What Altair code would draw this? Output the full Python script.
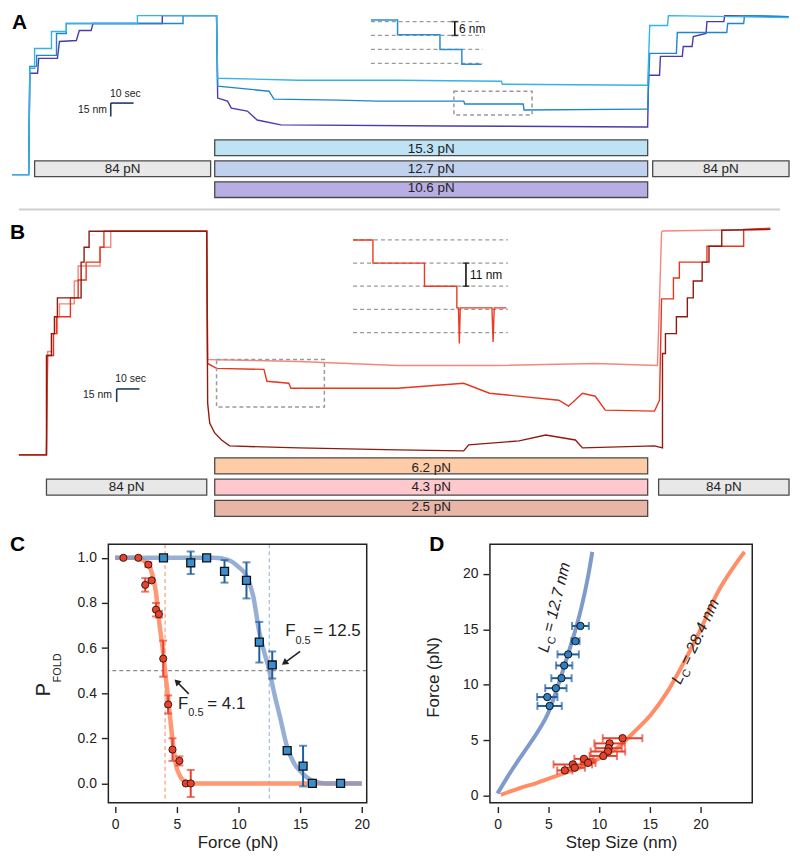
import altair as alt
import pandas as pd

FONT = "Liberation Sans"
INK = "#222222"

# ============================ DATA ============================
# ---------- Panel A: extension (nm) vs time (s) ----------
A_cyan_t = [0.9, 8.2, 8.7, 10.8, 10.8, 18.2, 18.2, 24.7, 24.7, 55.9, 55.9, 90.6, 91.1,
            126.6, 170.0, 215.5, 216.0, 278.4, 279.7, 280.6, 288.4, 288.8, 341.5]
A_cyan_e = [0, 0, 118.9, 118.9, 141.1, 141.1, 160.0, 160.0, 168.9, 168.9, 177.8, 177.8, 107.8,
            105.6, 105.6, 104.4, 101.1, 100.0, 100.0, 166.7, 166.7, 177.8, 175.6]
A_blue_t = [0.9, 8.2, 8.7, 11.7, 11.7, 20.4, 20.4, 24.7, 24.7, 75.9, 75.9, 90.6, 91.1, 113.6,
            115.8, 144.0, 161.3, 199.0, 199.5, 225.1, 225.5, 278.4, 279.7, 280.6, 292.3, 292.7,
            314.4, 314.8, 321.8, 322.2, 341.5]
A_blue_e = [0, 0, 121.1, 121.1, 133.3, 133.3, 157.8, 157.8, 168.9, 168.9, 177.8, 177.8, 98.9, 93.3,
            84.4, 83.3, 82.2, 82.2, 78.9, 78.9, 72.2, 73.3, 73.3, 135.6, 135.6, 158.9,
            158.9, 168.9, 168.9, 177.8, 176.7]
A_purple_t = [0.9, 8.2, 8.7, 12.1, 12.6, 20.8, 21.7, 29.1, 30.4, 35.6, 36.4, 66.8, 66.8, 90.6, 91.1,
              95.4, 97.1, 104.1, 108.4, 118.8, 191.7, 278.4, 279.7, 280.1, 284.9, 285.3, 294.9,
              295.3, 299.2, 299.7, 305.3, 305.7, 313.1, 313.5, 341.5]
A_purple_e = [0, 0, 113.3, 113.3, 130.0, 130.0, 148.9, 150.0, 161.1, 161.1, 168.9, 168.9, 177.8, 177.8,
              85.6, 82.2, 74.4, 71.1, 61.1, 55.6, 54.4, 53.3, 53.3, 111.1, 111.1, 132.2, 132.2,
              143.3, 143.3, 154.4, 157.8, 171.1, 171.1, 177.8, 176.7]
A_inset_t = [158.3, 170.0, 170.0, 188.6, 188.6, 198.2, 198.2, 206.9]
A_inset_e = [173.0, 173.0, 156.5, 156.5, 140.0, 140.0, 123.5, 123.5]
A_inset_levels = [171.1, 155.6, 140.0, 124.4]
A_inset_span = [158.3, 207.3]
A_box = [194.7, 229.0, 66.7, 93.3]          # t0, t1, e0, e1 (zoomed region)
A_step_bar = [195.1, 155.6, 171.1]          # t, e0, e1  -> "6 nm"
A_scale = [44.2, 80.0, 10.0, 15.0]          # t0, e0, 10 sec, 15 nm
A_bar_t0 = [10.8, 89.8, 89.8, 89.8, 281.9]
A_bar_t1 = [88.0, 279.7, 279.7, 279.7, 341.7]
A_bar_lane = ["mid", "top", "mid", "bot", "mid"]
A_bar_label = ["84 pN", "15.3 pN", "12.7 pN", "10.6 pN", "84 pN"]

# ---------- Panel B ----------
B_dark_t = [3.9, 16.0, 16.0, 18.2, 18.2, 19.5, 19.5, 20.8, 20.8, 31.2, 31.2, 32.5, 32.5, 34.7, 34.7,
            86.3, 86.7, 87.6, 89.8, 92.8, 96.3, 126.6, 170.0, 199.0, 201.2, 223.3, 235.0, 248.0,
            251.1, 282.7, 286.2, 286.2, 287.5, 287.5, 292.3, 292.3, 297.1, 297.1, 299.7, 299.7,
            303.6, 303.6, 306.6, 306.6, 312.2, 312.2, 333.5]
B_dark_e = [0, 0, 114.9, 114.9, 140.2, 140.2, 159.8, 159.8, 181.6, 181.6, 223.0, 223.0, 240.2, 240.2,
            258.6, 258.6, 59.8, 36.8, 25.3, 17.2, 10.3, 8.0, 5.7, 4.6, 11.5, 16.1, 23.0, 17.2, 8.0,
            10.3, 8.0, 117.2, 117.2, 140.2, 140.2, 159.8, 159.8, 181.6, 181.6, 201.1, 201.1, 223.0,
            223.0, 241.4, 241.4, 259.8, 260.9]
B_red_t = [3.9, 16.0, 16.5, 19.1, 19.1, 20.4, 20.4, 26.5, 26.5, 29.9, 29.9, 33.4, 33.4, 39.5, 39.5,
           41.2, 41.2, 86.3, 86.7, 90.6, 111.4, 112.7, 122.3, 123.2, 170.0, 199.0, 210.3, 240.7,
           245.0, 251.1, 256.7, 261.1, 282.7, 284.9, 285.8, 291.0, 291.0, 293.6, 293.6, 305.7,
           305.7, 321.8, 321.8, 333.5]
B_red_e = [0, 0, 114.9, 114.9, 140.2, 140.2, 159.8, 159.8, 181.6, 181.6, 202.3, 202.3, 223.0, 223.0,
           240.2, 240.2, 258.6, 258.6, 105.7, 100.0, 98.9, 85.1, 82.8, 77.0, 77.0, 82.8, 71.3, 63.2,
           56.3, 71.3, 67.8, 51.7, 50.6, 63.2, 180.5, 180.5, 204.6, 204.6, 223.0, 223.0, 241.4,
           241.4, 260.9, 262.1]
B_light_t = [3.9, 16.0, 16.5, 18.2, 18.2, 20.8, 20.8, 21.7, 21.7, 28.2, 28.2, 29.9, 29.9, 39.5, 39.5,
             44.2, 44.2, 86.3, 86.7, 126.6, 170.0, 213.4, 256.7, 284.0, 285.8, 286.2, 333.5]
B_light_e = [0, 0, 119.5, 119.5, 140.2, 140.2, 159.8, 159.8, 174.7, 174.7, 201.1, 201.1, 218.4, 218.4,
             240.2, 240.2, 258.6, 258.6, 110.3, 108.0, 103.4, 103.4, 105.7, 103.4, 257.5, 259.0, 260.9]
B_inset_t = [150.5, 159.2, 159.2, 181.8, 181.8, 196.0, 196.0, 196.7, 197.1, 197.5, 211.4, 211.9,
             212.4, 217.7]
B_inset_e = [248.6, 248.6, 221.8, 221.8, 195.1, 195.1, 170.0, 170.0, 128.7, 170.0, 170.0, 130.7,
             170.0, 170.0]
B_inset_levels = [248.6, 221.8, 195.1, 168.2, 141.4]
B_inset_span = [150.5, 218.4]
B_box = [90.6, 137.9, 55.2, 110.3]
B_step_bar = [200.0, 195.1, 221.8]          # "11 nm"
B_scale = [46.8, 76.2, 10.0, 15.0]
B_bar_t0 = [16.0, 89.8, 89.8, 89.8, 284.5]
B_bar_t1 = [86.3, 279.7, 279.7, 279.7, 341.7]
B_bar_lane = ["mid", "top", "mid", "bot", "mid"]
B_bar_label = ["84 pN", "6.2 pN", "4.3 pN", "2.5 pN", "84 pN"]

# ---------- Panel C: P_FOLD vs force ----------
C_red_F = [0.67, 1.88, 2.69, 2.44, 2.96, 3.31, 3.55, 3.90, 4.30, 4.65, 5.21, 5.73, 6.13]
C_red_P = [1.0, 1.0, 0.97, 0.88, 0.90, 0.77, 0.75, 0.553, 0.35, 0.15, 0.10, 0.0, 0.0]
C_red_err = [0, 0, 0.01, 0.03, 0.005, 0.03, 0.015, 0.08, 0.04, 0.05, 0.02, 0, 0.06]
C_blue_F = [3.92, 6.13, 7.42, 8.87, 10.65, 11.69, 12.74, 13.95, 15.24, 15.99, 18.28]
C_blue_P = [1.0, 0.978, 1.0, 0.94, 0.90, 0.626, 0.525, 0.146, 0.077, 0.0, 0.0]
C_blue_err = [0, 0.05, 0, 0.05, 0.08, 0.09, 0.06, 0.01, 0.09, 0.015, 0]
C_fit_red_F = [0, 1.5, 2.2, 2.7, 3.0, 3.3, 3.58, 3.85, 4.05, 4.35, 4.52, 4.75, 4.92, 5.2, 5.59, 6.2, 20]
C_fit_red_P = [1.0, 1.0, 0.99, 0.97, 0.93, 0.85, 0.71, 0.6, 0.5, 0.35, 0.26, 0.15, 0.085, 0.04, 0.01, 0.0, 0.0]
C_fit_blue_F = [0, 8.0, 9.2, 10.0, 10.65, 11.2, 11.69, 12.1, 12.5, 12.9, 13.39, 13.93, 14.5, 15.0,
                15.6, 16.1, 17.0, 20.0]
C_fit_blue_P = [1.0, 1.0, 0.99, 0.96, 0.92, 0.83, 0.67, 0.58, 0.5, 0.40, 0.29, 0.165, 0.09, 0.055,
                0.025, 0.01, 0.0, 0.0]
C_half = [4.05, 12.5]
C_half_series = ["red", "blue"]
C_ann_text = ["F", "= 12.5", "F", "= 4.1"]
C_ann_F = [13.79, 16.07, 5.1, 7.47]
C_ann_P = [0.652, 0.652, 0.332, 0.332]
C_sub_F = [14.62, 5.93]
C_sub_P = [0.616, 0.300]
C_arrow_tail_F = [15.0, 5.97]
C_arrow_tail_P = [0.585, 0.397]
C_arrow_head_F = [13.73, 5.0]
C_arrow_head_P = [0.534, 0.451]
C_arrow_angle = [233.6, 315.0]

# ---------- Panel D: force vs step size ----------
D_blue_x = [8.17, 7.68, 6.96, 6.57, 6.30, 5.75, 4.90, 5.13]
D_blue_y = [15.3, 13.93, 12.74, 11.74, 10.6, 9.7, 8.9, 8.1]
D_blue_err = [0.83, 0.4, 1.05, 0.8, 1.0, 1.05, 1.0, 1.2]
D_red_x = [12.32, 11.04, 10.94, 10.88, 10.42, 8.52, 8.92, 7.42, 7.61, 6.63]
D_red_y = [5.2, 4.73, 4.3, 4.0, 3.6, 3.34, 2.98, 2.84, 2.54, 2.3]
D_red_err = [1.95, 1.5, 1.3, 1.7, 1.35, 0.95, 0.73, 1.9, 1.0, 0.75]
D_fit_blue_x = [0.0, 1.40, 2.71, 4.02, 5.0, 5.65, 6.30, 6.96, 7.61, 8.26, 8.92, 9.34]
D_fit_blue_y = [0.23, 2.31, 4.08, 5.86, 7.48, 9.10, 10.88, 12.80, 14.73, 16.95, 19.75, 21.97]
D_fit_red_x = [0.32, 2.06, 3.69, 5.32, 6.96, 8.59, 10.23, 11.86, 13.49, 15.13, 16.76, 18.39,
               20.03, 21.67, 23.29, 24.34]
D_fit_red_y = [0.09, 0.67, 1.12, 1.65, 2.16, 2.72, 3.49, 4.37, 5.79, 7.33, 9.41, 12.07, 15.02,
               18.28, 20.64, 21.97]
D_lab_x = [4.98, 18.02]
D_lab_y = [12.85, 9.96]
D_lab_angle = [284, 295]
D_lab_rest = ["= 12.7 nm", "= 28.4 nm"]

# ============================ STYLE / LAYOUT ============================
A_cols = {"cyan": "#33B3E6", "blue": "#1F86C9", "purple": "#4B3AAD", "inset": "#2A8ED0"}
B_cols = {"light": "#F4877C", "red": "#E8351E", "dark": "#8E1B12", "inset": "#EC3A22"}
BAR_DOMAIN = ["84 pN", "15.3 pN", "12.7 pN", "10.6 pN", "6.2 pN", "4.3 pN", "2.5 pN"]
BAR_RANGE = ["#E8E8E8", "#BEE3F4", "#C0D1EE", "#B9AEE4", "#FECDA8", "#FFC8CC", "#E8B5A7"]
FIT_BLUE, FIT_RED = "#7E9BCB", "#FF8D66"
PT_BLUE, PT_RED = "#3A8FD0", "#E8412C"
ERR_BLUE, ERR_RED = "#1F5F9F", "#E8412C"

LEFT = 99            # left extent shared by all panels (room for panel C's axis)
W = 685              # trace panels: plot width right of the shared origin
A_H, B_H = 200, 298
one = pd.DataFrame({"s": [""]})


def seq(t, e):
    return pd.DataFrame({"t": t, "e": e, "i": list(range(len(t)))})


def trace(t, e, color, xs, ys, width=1.4):
    return alt.Chart(seq(t, e)).mark_line(color=color, strokeWidth=width).encode(
        x=alt.X("t:Q", scale=xs, axis=None),
        y=alt.Y("e:Q", scale=ys, axis=None),
        order=alt.Order("i:Q"),
    )


def bars(t0, t1, lane, label, xs, lane_range):
    d = pd.DataFrame({"t0": t0, "t1": t1, "lane": lane, "label": label})
    ys = alt.Scale(domain=["top", "mid", "bot"], range=lane_range, paddingInner=0.25, paddingOuter=0)
    rect = alt.Chart(d).mark_rect(stroke="#4a4a4a", strokeWidth=1.3).encode(
        x=alt.X("t0:Q", scale=xs, axis=None), x2="t1:Q",
        y=alt.Y("lane:N", scale=ys, axis=None),
        fill=alt.Fill("label:N", scale=alt.Scale(domain=BAR_DOMAIN, range=BAR_RANGE), legend=None),
    )
    txt = alt.Chart(d).transform_calculate(tm="(datum.t0 + datum.t1) / 2").mark_text(
        font=FONT, fontSize=13.5, color=INK, baseline="middle").encode(
        x=alt.X("tm:Q", scale=xs, axis=None),
        y=alt.Y("lane:N", scale=ys, axis=None),
        text="label:N",
    )
    return [rect, txt]


def extras(xs, ys, inset_levels, span, box, step_bar, step_text, scale, scale_txt_pos):
    lines = pd.DataFrame({"e": inset_levels, "t0": span[0], "t1": span[1]})
    dashed = alt.Chart(lines).mark_rule(color="#9a9a9a", strokeDash=[4, 3], strokeWidth=1.2).encode(
        x=alt.X("t0:Q", scale=xs, axis=None), x2="t1:Q", y=alt.Y("e:Q", scale=ys, axis=None))
    bx = pd.DataFrame({"t0": [box[0]], "t1": [box[1]], "e0": [box[2]], "e1": [box[3]]})
    boxl = alt.Chart(bx).mark_rect(fillOpacity=0, stroke="#9a9a9a", strokeDash=[4, 3], strokeWidth=1.5).encode(
        x=alt.X("t0:Q", scale=xs, axis=None), x2="t1:Q",
        y=alt.Y("e0:Q", scale=ys, axis=None), y2="e1:Q")
    sb = pd.DataFrame({"t": [step_bar[0]], "e0": [step_bar[1]], "e1": [step_bar[2]],
                       "lab": [step_text], "tt": [step_bar[0] + 1.8],
                       "em": [(step_bar[1] + step_bar[2]) / 2]})
    ibar = alt.Chart(sb).mark_errorbar(ticks=True, size=7, thickness=1.6, color="#111111").encode(
        x=alt.X("t:Q", scale=xs, axis=None), y=alt.Y("e0:Q", scale=ys, axis=None), y2="e1:Q")
    itxt = alt.Chart(sb).mark_text(font=FONT, fontSize=12, color="#111111", align="left",
                                   baseline="middle").encode(
        x=alt.X("tt:Q", scale=xs, axis=None), y=alt.Y("em:Q", scale=ys, axis=None), text="lab:N")
    t0, e0, dt, de = scale
    sc = pd.DataFrame({"t": [t0, t0], "e": [e0, e0], "t2": [t0 + dt, t0], "e2": [e0, e0 - de]})
    scl = alt.Chart(sc).mark_rule(color="#1F3A60", strokeWidth=1.6).encode(
        x=alt.X("t:Q", scale=xs, axis=None), y=alt.Y("e:Q", scale=ys, axis=None), x2="t2:Q", y2="e2:Q")
    st = pd.DataFrame({"lab": ["10 sec", "15 nm"], "t": scale_txt_pos[0], "e": scale_txt_pos[1]})
    sct1 = alt.Chart(st.iloc[[0]]).mark_text(font=FONT, fontSize=10.5, color=INK, align="center",
                                             baseline="bottom").encode(
        x=alt.X("t:Q", scale=xs, axis=None), y=alt.Y("e:Q", scale=ys, axis=None), text="lab:N")
    sct2 = alt.Chart(st.iloc[[1]]).mark_text(font=FONT, fontSize=10.5, color=INK, align="right",
                                             baseline="middle").encode(
        x=alt.X("t:Q", scale=xs, axis=None), y=alt.Y("e:Q", scale=ys, axis=None), text="lab:N")
    return [dashed, boxl, ibar, itxt, scl, sct1, sct2]


def letter(ch, x, y):
    return alt.Chart(pd.DataFrame({"s": [ch]})).mark_text(
        font=FONT, fontSize=21, fontWeight="bold", color="#000000", align="left", baseline="top").encode(
        text="s:N", x=alt.value(x), y=alt.value(y))


# ---------------- Panel A ----------------
xA = alt.Scale(domain=[0, 341.7], range=[-LEFT, W], nice=False, zero=False)
yA = alt.Scale(domain=[-40.0, 182.2], nice=False, zero=False)
A_layers = [
    trace(A_purple_t, A_purple_e, A_cols["purple"], xA, yA),
    trace(A_blue_t, A_blue_e, A_cols["blue"], xA, yA),
    trace(A_cyan_t, A_cyan_e, A_cols["cyan"], xA, yA),
]
A_layers += extras(xA, yA, A_inset_levels, A_inset_span, A_box, A_step_bar, "6 nm", A_scale,
                   ([50.6, 42.5], [84.4, 71.7]))
A_layers.append(trace(A_inset_t, A_inset_e, A_cols["inset"], xA, yA, width=1.5))
A_layers += bars(A_bar_t0, A_bar_t1, A_bar_lane, A_bar_label, xA, [129, 187])
A_layers.append(letter("A", -LEFT + 2, 0))
A_layers.append(alt.Chart(one).mark_rule(color="#cfcfcf", strokeWidth=2).encode(
    x=alt.value(-LEFT + 9), x2=alt.value(W - 9), y=alt.value(199)))
panelA = alt.layer(*A_layers).resolve_scale(y="independent").properties(width=W, height=A_H)

# ---------------- Panel B ----------------
xB = alt.Scale(domain=[0, 341.7], range=[-LEFT, W], nice=False, zero=False)
yB = alt.Scale(domain=[-71.3, 271.3], nice=False, zero=False)
B_layers = [
    trace(B_light_t, B_light_e, B_cols["light"], xB, yB),
    trace(B_red_t, B_red_e, B_cols["red"], xB, yB),
    trace(B_dark_t, B_dark_e, B_cols["dark"], xB, yB),
]
B_layers += extras(xB, yB, B_inset_levels, B_inset_span, B_box, B_step_bar, "11 nm", B_scale,
                   ([52.9, 44.7], [82.0, 69.0]))
B_layers.append(trace(B_inset_t, B_inset_e, B_cols["inset"], xB, yB, width=1.4))
B_layers += bars(B_bar_t0, B_bar_t1, B_bar_lane, B_bar_label, xB, [239, 298])
B_layers.append(letter("B", -LEFT, 2))
panelB = alt.layer(*B_layers).resolve_scale(y="independent").properties(width=W, height=B_H)

# ---------------- Panel C ----------------
CW, CH = 260, 260
xC = alt.Scale(domain=[-0.55, 20.4], nice=False, zero=False)
yC = alt.Scale(domain=[-0.085, 1.06], nice=False, zero=False)
axC_x = alt.Axis(values=[0, 5, 10, 15, 20], title="Force (pN)")
axC_y = alt.Axis(values=[0, 0.2, 0.4, 0.6, 0.8, 1.0], format=".1f", title=None)


def XC(f):
    return alt.X(f, scale=xC, axis=axC_x)


def YC(f):
    return alt.Y(f, scale=yC, axis=axC_y)


def fit_df(x, y):
    return pd.DataFrame({"x": x, "y": y, "i": list(range(len(x)))})


def pts_df(x, y, err):
    return pd.DataFrame({"x": x, "y": y, "err": err})


C_layers = []
C_layers.append(alt.Chart(pd.DataFrame({"p": [0.5]})).mark_rule(
    color="#8c8c8c", strokeDash=[4, 3], strokeWidth=1.1).encode(y=YC("p:Q")))
C_layers.append(alt.Chart(pd.DataFrame({"f": C_half, "s": C_half_series})).mark_rule(
    strokeDash=[4, 3], strokeWidth=1.3).encode(
    x=XC("f:Q"),
    color=alt.Color("s:N", scale=alt.Scale(domain=["red", "blue"], range=["#F7A586", "#A8BFEA"]), legend=None)))
C_layers.append(alt.Chart(fit_df(C_fit_red_F, C_fit_red_P)).mark_line(
    color=FIT_RED, strokeWidth=4.5, opacity=0.9, interpolate="monotone").encode(
    x=XC("x:Q"), y=YC("y:Q"), order=alt.Order("i:Q")))
C_layers.append(alt.Chart(fit_df(C_fit_blue_F, C_fit_blue_P)).mark_line(
    color=FIT_BLUE, strokeWidth=4.5, opacity=0.8, interpolate="monotone").encode(
    x=XC("x:Q"), y=YC("y:Q"), order=alt.Order("i:Q")))
for F, P, E, ec in [(C_red_F, C_red_P, C_red_err, ERR_RED), (C_blue_F, C_blue_P, C_blue_err, ERR_BLUE)]:
    C_layers.append(alt.Chart(pts_df(F, P, E)).transform_filter("datum.err > 0").transform_calculate(
        lo="datum.y - datum.err", hi="datum.y + datum.err").mark_errorbar(
        ticks=True, size=8, thickness=2, color=ec).encode(x=XC("x:Q"), y=YC("lo:Q"), y2="hi:Q"))
C_layers.append(alt.Chart(pts_df(C_red_F, C_red_P, C_red_err)).mark_point(
    shape="circle", filled=True, size=52, fill=PT_RED, stroke="#3b1a12", strokeWidth=1, opacity=1).encode(
    x=XC("x:Q"), y=YC("y:Q")))
C_layers.append(alt.Chart(pts_df(C_blue_F, C_blue_P, C_blue_err)).mark_point(
    shape="square", filled=True, size=64, fill=PT_BLUE, stroke="#111111", strokeWidth=1.3, opacity=1).encode(
    x=XC("x:Q"), y=YC("y:Q")))
C_layers.append(alt.Chart(pd.DataFrame({"t": C_ann_text, "x": C_ann_F, "y": C_ann_P})).mark_text(
    font=FONT, fontSize=17, color=INK, align="left", baseline="alphabetic").encode(
    x=XC("x:Q"), y=YC("y:Q"), text="t:N"))
C_layers.append(alt.Chart(pd.DataFrame({"t": ["0.5", "0.5"], "x": C_sub_F, "y": C_sub_P})).mark_text(
    font=FONT, fontSize=11, color=INK, align="left", baseline="alphabetic").encode(
    x=XC("x:Q"), y=YC("y:Q"), text="t:N"))
arr = pd.DataFrame({"tx": C_arrow_tail_F, "ty": C_arrow_tail_P, "hx": C_arrow_head_F,
                    "hy": C_arrow_head_P, "ang": C_arrow_angle})
C_layers.append(alt.Chart(arr).mark_rule(color=INK, strokeWidth=1.6).encode(
    x=XC("tx:Q"), y=YC("ty:Q"), x2="hx:Q", y2="hy:Q"))
C_layers.append(alt.Chart(arr).mark_point(shape="triangle-up", filled=True, size=55, color=INK,
                                          opacity=1).encode(
    x=XC("hx:Q"), y=YC("hy:Q"), angle=alt.Angle("ang:Q", scale=None)))
C_layers.append(alt.Chart(one).mark_rect(fillOpacity=0, stroke=INK, strokeWidth=1.5).encode(
    x=alt.value(0), x2=alt.value(CW), y=alt.value(0), y2=alt.value(CH)))
C_layers.append(alt.Chart(pd.DataFrame({"s": ["P"]})).mark_text(
    font=FONT, fontSize=20, color=INK, align="left", baseline="alphabetic", angle=270).encode(
    text="s:N", x=alt.value(-59), y=alt.value(153)))
C_layers.append(alt.Chart(pd.DataFrame({"s": ["FOLD"]})).mark_text(
    font=FONT, fontSize=11, color=INK, align="left", baseline="alphabetic", angle=270).encode(
    text="s:N", x=alt.value(-48), y=alt.value(139)))
C_layers.append(letter("C", -LEFT, -10))
panelC = alt.layer(*C_layers).properties(width=CW, height=CH)

# ---------------- Panel D ----------------
DW, DH = 264, 260
xD = alt.Scale(domain=[-0.75, 25.1], nice=False, zero=False)
yD = alt.Scale(domain=[-0.6, 22.65], nice=False, zero=False)
axD_x = alt.Axis(values=[0, 5, 10, 15, 20], title="Step Size (nm)")
axD_y = alt.Axis(values=[0, 5, 10, 15, 20], title=None)


def XD(f):
    return alt.X(f, scale=xD, axis=axD_x)


def YD(f):
    return alt.Y(f, scale=yD, axis=axD_y)


D_layers = []
D_layers.append(alt.Chart(fit_df(D_fit_blue_x, D_fit_blue_y)).mark_line(
    color=FIT_BLUE, strokeWidth=4, interpolate="monotone").encode(
    x=XD("x:Q"), y=YD("y:Q"), order=alt.Order("i:Q")))
D_layers.append(alt.Chart(fit_df(D_fit_red_x, D_fit_red_y)).mark_line(
    color=FIT_RED, strokeWidth=4, interpolate="monotone").encode(
    x=XD("x:Q"), y=YD("y:Q"), order=alt.Order("i:Q")))
for X, Y, E, ec in [(D_red_x, D_red_y, D_red_err, ERR_RED), (D_blue_x, D_blue_y, D_blue_err, ERR_BLUE)]:
    D_layers.append(alt.Chart(pts_df(X, Y, E)).transform_calculate(
        lo="datum.x - datum.err", hi="datum.x + datum.err").mark_errorbar(
        ticks=True, size=8, thickness=2, color=ec).encode(y=YD("y:Q"), x=XD("lo:Q"), x2="hi:Q"))
D_layers.append(alt.Chart(pts_df(D_red_x, D_red_y, D_red_err)).mark_point(
    shape="circle", filled=True, size=55, fill=PT_RED, stroke="#3b1a12", strokeWidth=1, opacity=1).encode(
    x=XD("x:Q"), y=YD("y:Q")))
D_layers.append(alt.Chart(pts_df(D_blue_x, D_blue_y, D_blue_err)).mark_point(
    shape="circle", filled=True, size=55, fill="#2F80C2", stroke="#111111", strokeWidth=1, opacity=1).encode(
    x=XD("x:Q"), y=YD("y:Q")))
lab = pd.DataFrame({"x": D_lab_x, "y": D_lab_y, "ang": D_lab_angle, "L": ["L", "L"], "C": ["C", "C"],
                    "rest": D_lab_rest})
D_layers.append(alt.Chart(lab).mark_text(font=FONT, fontSize=16, fontStyle="italic", color=INK,
                                         align="left", baseline="alphabetic").encode(
    x=XD("x:Q"), y=YD("y:Q"), angle=alt.Angle("ang:Q", scale=None), text="L:N"))
D_layers.append(alt.Chart(lab).mark_text(font=FONT, fontSize=11, color=INK, align="left",
                                         baseline="alphabetic", dx=9.5, dy=4).encode(
    x=XD("x:Q"), y=YD("y:Q"), angle=alt.Angle("ang:Q", scale=None), text="C:N"))
D_layers.append(alt.Chart(lab).mark_text(font=FONT, fontSize=16, fontStyle="italic", color=INK,
                                         align="left", baseline="alphabetic", dx=21).encode(
    x=XD("x:Q"), y=YD("y:Q"), angle=alt.Angle("ang:Q", scale=None), text="rest:N"))
D_layers.append(alt.Chart(one).mark_rect(fillOpacity=0, stroke=INK, strokeWidth=1.5).encode(
    x=alt.value(0), x2=alt.value(DW), y=alt.value(0), y2=alt.value(DH)))
D_layers.append(alt.Chart(pd.DataFrame({"s": ["Force (pN)"]})).mark_text(
    font=FONT, fontSize=17, color=INK, align="center", baseline="middle", angle=270).encode(
    text="s:N", x=alt.value(-56), y=alt.value(134)))
D_layers.append(letter("D", -61, -10))
panelD = alt.layer(*D_layers).properties(width=DW, height=DH)

# ---------------- Assemble ----------------
top = alt.vconcat(panelA, panelB, spacing=8)
bottom = alt.hconcat(panelC, panelD, spacing=53)
chart = alt.vconcat(top, bottom, spacing=15).properties(padding=0).configure_view(
    stroke="transparent"
).configure_axis(
    domain=False, grid=False, ticks=True, tickColor=INK, tickWidth=1.4, tickSize=6,
    labelFont=FONT, labelFontSize=14, labelColor=INK, labelPadding=5,
    titleFont=FONT, titleFontSize=17, titleFontWeight="normal", titleColor=INK, titlePadding=3,
).configure_axisX(offset=4).configure_axisY(offset=1)

chart.save("out.html", embed_options={"renderer": "svg", "actions": False})
